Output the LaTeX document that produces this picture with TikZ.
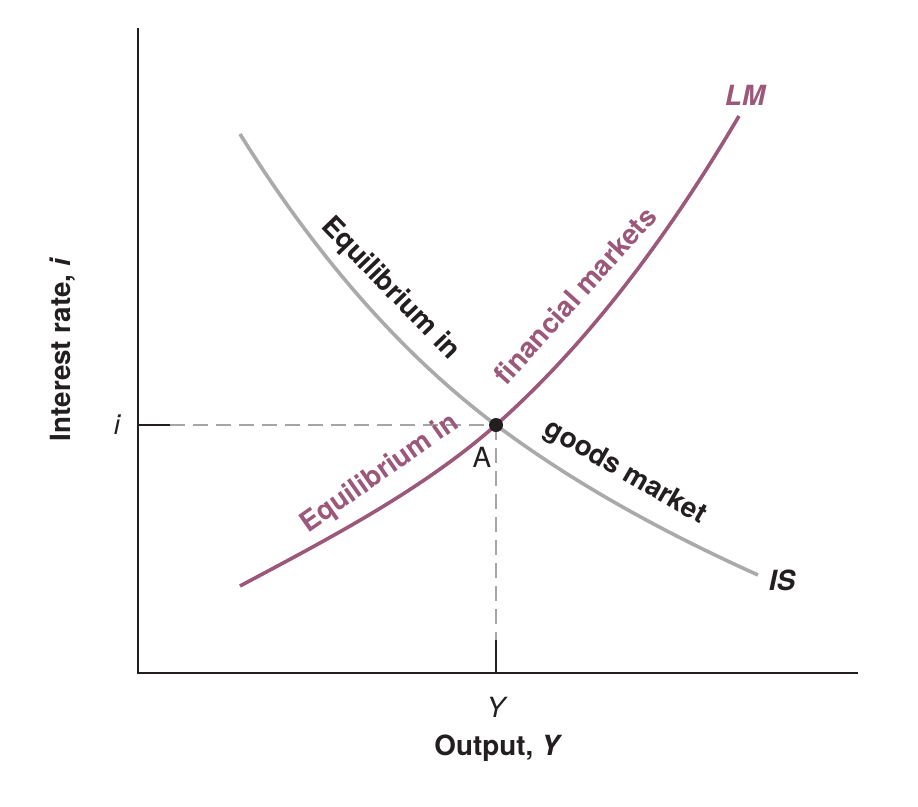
\documentclass[tikz,border=0pt]{standalone}
\usepackage{fontspec}
\setmainfont{TeX Gyre Heros}
\definecolor{lmpurple}{RGB}{155,88,122}
\definecolor{isgray}{RGB}{170,170,170}
\definecolor{dashgray}{RGB}{165,165,165}
\definecolor{inkblack}{RGB}{35,31,32}
\tikzset{
  axisline/.style={line width=2pt,inkblack},
  guide/.style={line width=1.6pt,dashgray,dash pattern=on 15pt off 8pt},
  curvelm/.style={line width=3.6pt,lmpurple},
  curveis/.style={line width=3.6pt,isgray},
  txt/.style={inner sep=0pt,text=inkblack,font=\fontsize{27.8}{32}\selectfont},
  btxt/.style={txt,font=\fontsize{27.8}{32}\selectfont\bfseries}
}
\begin{document}
\begin{tikzpicture}[x=1pt,y=-1pt]
\useasboundingbox (0,0) rectangle (918,806);
% axes
\coordinate (O) at (138,673);
\coordinate (ytop) at (138,28);
\coordinate (xend) at (858,673);
\coordinate (A) at (496,425);
\coordinate (itick) at (170,425);
\coordinate (ytick) at (496,640);
\coordinate (isstart) at (240,134);
\coordinate (isend) at (758,575);
\coordinate (lmstart) at (240,586);
\coordinate (lmend) at (739,116);
\draw[axisline] (ytop) -- (O) -- (xend);
\draw[axisline] (O |- A) -- (itick);
\draw[axisline] (ytick) -- (A |- O);
\draw[guide] (itick) -- (A);
\draw[guide] (A) -- (ytick);
% curves
\draw[curveis] (isstart) .. controls (314,253) and (400,353) .. (A) .. controls (576,485) and (667,534) .. (isend);
\draw[curvelm] (lmstart) .. controls (328,539) and (421,491) .. (A) .. controls (593,339) and (673,228) .. (lmend);
\fill[inkblack] (A) circle (7);
% labels
\node[txt] (ilab) at (117,425) {\itshape i};
\node[txt] (ylab) at (496,707) {\itshape Y};
\node[txt] (alab) at (482,457) {A};
\node[btxt] (xtitle) at (497,748) {Output, \itshape Y};
\node[btxt,rotate=90] (ytitle) at (63,350) {Interest rate, \itshape i};
\node[btxt,text=lmpurple] (lmlab) at (745,95) {\itshape LM};
\node[btxt] (islab) at (782,580) {\itshape IS};
\node[btxt,rotate=-46] (goods1) at (390,289) {Equilibrium in};
\node[btxt,rotate=-30] (goods2) at (625,473) {goods market};
\node[btxt,text=lmpurple,rotate=48] (fin2) at (575,295) {financial markets};
\node[btxt,text=lmpurple,rotate=35] (fin1) at (380,474) {Equilibrium in};
\end{tikzpicture}
\end{document}
